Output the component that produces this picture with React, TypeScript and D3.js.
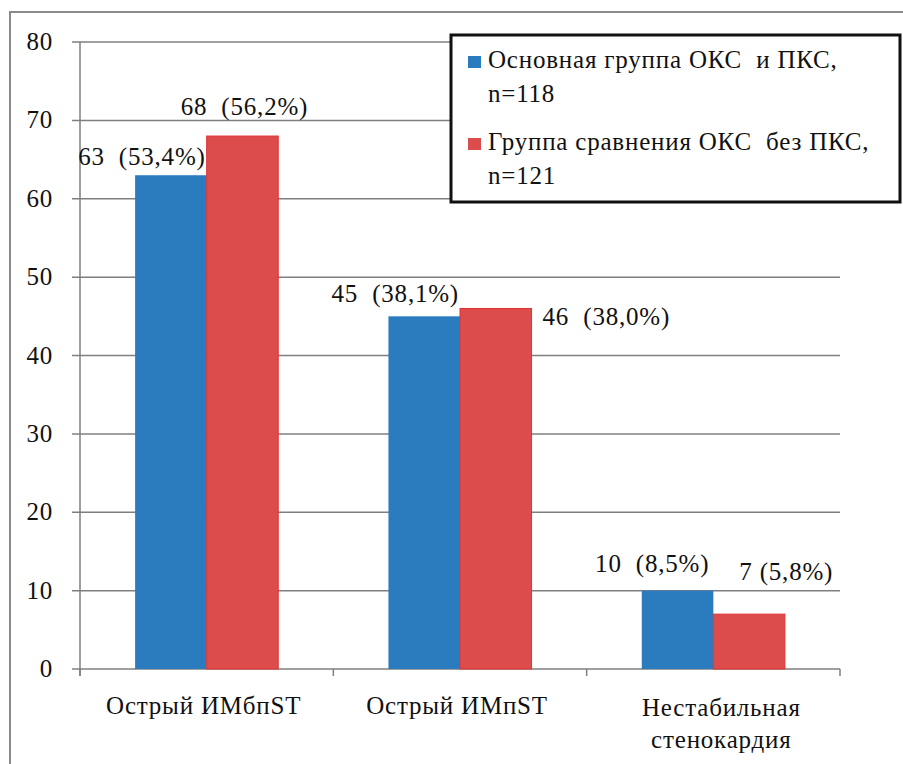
import React, { useEffect, useRef } from "react";
import * as d3 from "d3";

const categories = ["Острый ИМбпST", "Острый ИМпST", "Нестабильная стенокардия"];
const categoryLines = [["Острый ИМбпST"], ["Острый ИМпST"], ["Нестабильная", "стенокардия"]];
const seriesNames = ["Основная группа ОКС  и ПКС,", "Группа сравнения ОКС  без ПКС,"];
const seriesN = ["n=118", "n=121"];
const mainGroup = [63, 45, 10];
const compareGroup = [68, 46, 7];
const mainPct = ["53,4%", "38,1%", "8,5%"];
const comparePct = ["56,2%", "38,0%", "5,8%"];
const yTicks = [0, 10, 20, 30, 40, 50, 60, 70, 80];

// hand placed label offsets (px) relative to bar top
const mainLabelOff = [[-1, -10], [-1, -14], [-4, -19]];
const compareLabelOff = [[-26, -21], [11, 17], [26, -34]];

const W = 903;
const H = 764;
const FONT = "'Liberation Serif', 'DejaVu Serif', Tinos, 'Times New Roman', Times, serif";
const FS = 25;
const LS = 0.8;
const BLUE = "#2b7cbf";
const RED = "#dc4c4c";

function App() {
  const ref = useRef<SVGSVGElement>(null);

  useEffect(() => {
    const svg = d3.select(ref.current);
    svg.selectAll("*").remove();

    const left = 80, right = 840, top = 42, bottom = 669;

    const x0 = d3.scaleBand().domain(categories).range([left, right]).padding(0);
    const x1 = d3
      .scaleBand()
      .domain(["a", "b"])
      .range([0, x0.bandwidth()])
      .paddingInner(0)
      .paddingOuter(0.77);
    const y = d3.scaleLinear().domain([0, 80]).range([bottom, top]);

    const txt = (sel: any) =>
      sel.style("font-family", FONT)
        .attr("font-size", FS)
        .attr("letter-spacing", LS)
        .attr("fill", "#111");

    // outer frame
    svg.append("rect")
      .attr("x", 10).attr("y", 12)
      .attr("width", W).attr("height", H)
      .attr("fill", "white")
      .attr("stroke", "#8a8a8a").attr("stroke-width", 2);

    // grid + y ticks
    const g = svg.append("g");
    yTicks.forEach((t) => {
      g.append("line")
        .attr("x1", left - 8).attr("x2", right)
        .attr("y1", y(t)).attr("y2", y(t))
        .attr("stroke", "#7f7f7f").attr("stroke-width", 1.5);
      g.append("text")
        .attr("x", 53).attr("y", y(t) + 8)
        .attr("text-anchor", "end")
        .call(txt)
        .text(t);
    });

    // y axis
    g.append("line")
      .attr("x1", left).attr("x2", left)
      .attr("y1", top).attr("y2", bottom + 7)
      .attr("stroke", "#7f7f7f").attr("stroke-width", 1.5);
    // category ticks
    [left, ...categories.map((c) => (x0(c) as number) + x0.bandwidth())].forEach((px) => {
      g.append("line")
        .attr("x1", px).attr("x2", px)
        .attr("y1", bottom).attr("y2", bottom + 7)
        .attr("stroke", "#7f7f7f").attr("stroke-width", 1.5);
    });

    // bars
    categories.forEach((c, i) => {
      const bx = x0(c) as number;
      const xa = bx + (x1("a") as number);
      const xb = bx + (x1("b") as number);
      const bw = x1.bandwidth();

      svg.append("rect")
        .attr("x", xa).attr("y", y(mainGroup[i]))
        .attr("width", bw).attr("height", y(0) - y(mainGroup[i]))
        .attr("fill", BLUE);
      svg.append("rect")
        .attr("x", xb).attr("y", y(compareGroup[i]))
        .attr("width", bw).attr("height", y(0) - y(compareGroup[i]))
        .attr("fill", RED)
        .attr("stroke", "#e33232").attr("stroke-width", 1);

      svg.append("text")
        .attr("x", xa + bw + mainLabelOff[i][0])
        .attr("y", y(mainGroup[i]) + mainLabelOff[i][1])
        .attr("text-anchor", "end")
        .call(txt)
        .attr("xml:space", "preserve")
        .text(`${mainGroup[i]}  (${mainPct[i]})`);

      svg.append("text")
        .attr("x", xb + (i === 1 ? bw : 0) + compareLabelOff[i][0])
        .attr("y", y(compareGroup[i]) + compareLabelOff[i][1])
        .call(txt)
        .attr("xml:space", "preserve")
        .text(i === 2 ? `${compareGroup[i]} (${comparePct[i]})` : `${compareGroup[i]}  (${comparePct[i]})`);

      // category label
      const lines = categoryLines[i];
      lines.forEach((ln, k) => {
        svg.append("text")
          .attr("x", bx + x0.bandwidth() / 2 + (lines.length > 1 ? 8 : -3))
          .attr("y", (lines.length > 1 ? 716 : 714) + k * 32)
          .attr("text-anchor", "middle")
          .call(txt)
          .text(ln);
      });
    });

    // legend
    const lg = svg.append("g");
    lg.append("rect")
      .attr("x", 451).attr("y", 35)
      .attr("width", 449).attr("height", 167)
      .attr("fill", "white")
      .attr("stroke", "#111").attr("stroke-width", 3);
    [BLUE, RED].forEach((col, i) => {
      const ly = 68 + i * 82;
      lg.append("rect")
        .attr("x", 468).attr("y", ly - 12)
        .attr("width", 13).attr("height", 12)
        .attr("fill", col);
      lg.append("text")
        .attr("x", 488).attr("y", ly)
        .call(txt)
        .attr("xml:space", "preserve")
        .text(seriesNames[i]);
      lg.append("text")
        .attr("x", 488).attr("y", ly + 34)
        .call(txt)
        .text(seriesN[i]);
    });
  }, []);

  return (
    <svg
      ref={ref}
      width={W}
      height={H}
      style={{ position: "absolute", left: 0, top: 0, background: "white" }}
    />
  );
}

export default App;
